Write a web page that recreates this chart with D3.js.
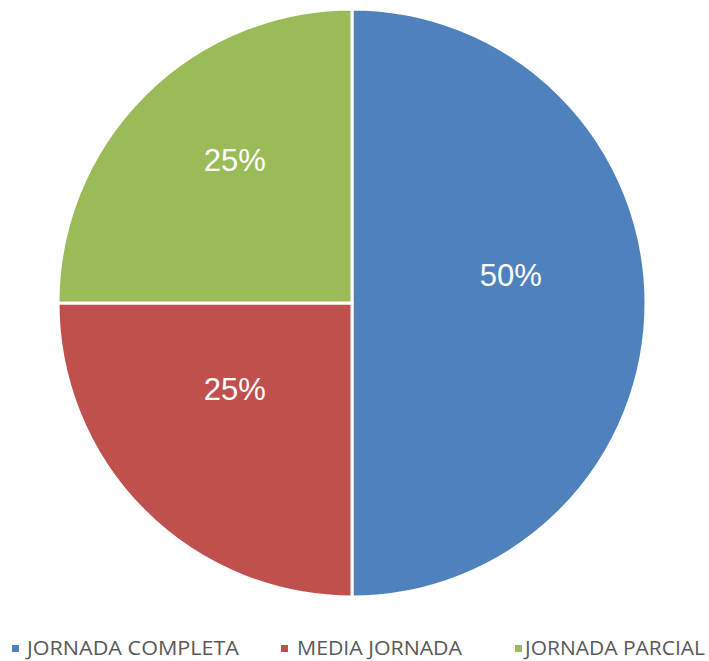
<!DOCTYPE html>
<html lang="es">
<meta charset="UTF-8" />
<head>
  <title>Tipo de jornada</title>
  <style>
    body { margin: 0; background: #fff; }
    svg { display: block; }
    .slice-label { fill: #fff; font-family: "Liberation Sans", Arial, sans-serif; font-size: 31px; }
    .legend text { fill: #595959; font-family: "Open Sans", "Liberation Sans", sans-serif; font-size: 20px; }
  </style>
</head>
<body>
  <svg width="709" height="661"></svg>
  <script src="https://d3js.org/d3.v7.min.js"></script>
  <script>
    const categories = ["JORNADA COMPLETA", "MEDIA JORNADA", "JORNADA PARCIAL"];
    const values = [50, 25, 25];
    const colors = ["#4F81BD", "#C0504D", "#9BBB59"];

    const svg = d3.select("svg");
    const cx = 352, cy = 303, radius = 294;

    const data = categories.map((c, i) => ({ name: c, value: values[i], color: colors[i] }));
    const total = d3.sum(values);

    const pie = d3.pie().value(d => d.value).sort(null);
    const arc = d3.arc().innerRadius(0).outerRadius(radius);
    const labelArc = d3.arc().innerRadius(radius * 0.55).outerRadius(radius * 0.55);

    const g = svg.append("g").attr("transform", `translate(${cx},${cy})`);

    g.selectAll("path")
      .data(pie(data))
      .join("path")
      .attr("d", arc)
      .attr("fill", d => d.data.color)
      .attr("stroke", "#fff")
      .attr("stroke-width", 3)
      .attr("stroke-linejoin", "miter");

    g.selectAll("text")
      .data(pie(data))
      .join("text")
      .attr("class", "slice-label")
      .attr("transform", d => {
        const [x, y] = labelArc.centroid(d);
        return `translate(${x - 3},${y - 28})`;
      })
      .attr("text-anchor", "middle")
      .attr("dominant-baseline", "central")
      .text(d => Math.round(d.data.value / total * 100) + "%");

    // legend along the bottom (layout taken from the original)
    const legend = svg.append("g").attr("class", "legend");
    const legendLayout = [
      { box: 12, text: 27, width: 212 },
      { box: 281, text: 297, width: 165 },
      { box: 515, text: 525, width: 180 }
    ];
    const item = legend.selectAll("g")
      .data(data)
      .join("g");
    item.append("rect")
      .attr("x", (d, i) => legendLayout[i].box)
      .attr("y", 645)
      .attr("width", 7).attr("height", 7)
      .attr("fill", d => d.color);
    item.append("text")
      .attr("x", (d, i) => legendLayout[i].text)
      .attr("y", 655)
      .attr("textLength", (d, i) => legendLayout[i].width)
      .attr("lengthAdjust", "spacingAndGlyphs")
      .text(d => d.name);
  </script>
</body>
</html>
